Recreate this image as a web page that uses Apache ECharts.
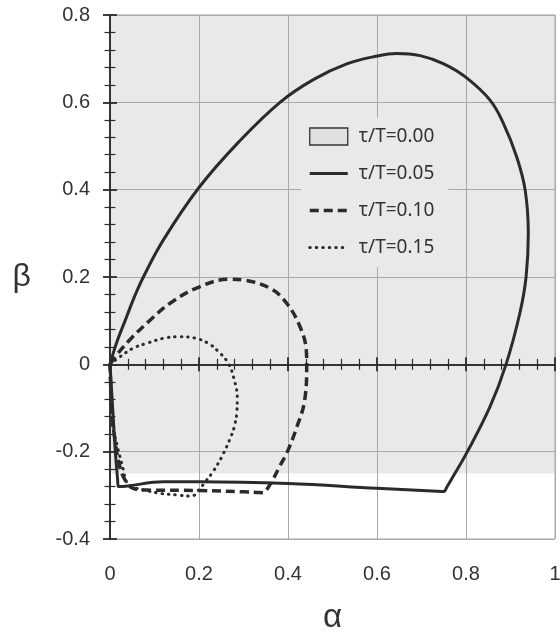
<!DOCTYPE html>
<html>
<head>
<meta charset="utf-8">
<script src="https://cdn.jsdelivr.net/npm/echarts@6/dist/echarts.min.js"></script>
<style>
  html, body { margin: 0; padding: 0; background: #fff; }
  #chart { width: 560px; height: 635px; }
</style>
</head>
<body>
<div id="chart"></div>
<script>
// Stability region for tau/T = 0.00 (shaded box)
const regionTop = [[0, 0.8], [1, 0.8]];
const regionBottom = -0.25;

// Boundary curves, [alpha, beta]
const curve05 = [
  [0, 0], [0.015, 0.05], [0.034, 0.1], [0.053, 0.15], [0.075, 0.2], [0.12, 0.285],
  [0.2, 0.405], [0.29, 0.51], [0.382, 0.6], [0.457, 0.652], [0.532, 0.688],
  [0.6, 0.706], [0.644, 0.712], [0.697, 0.707], [0.75, 0.688], [0.8, 0.657],
  [0.854, 0.605], [0.884, 0.552], [0.914, 0.475], [0.933, 0.399], [0.94, 0.3],
  [0.935, 0.2], [0.921, 0.117], [0.89, 0], [0.854, -0.097], [0.801, -0.204],
  [0.771, -0.257], [0.757, -0.281], [0.75, -0.291], [0.735, -0.2905], [0.6, -0.284],
  [0.4, -0.273], [0.2, -0.269], [0.12, -0.269], [0.035, -0.2792], [0.019, -0.28],
  [0.017, -0.262], [0.012, -0.2], [0.006, -0.1], [0, 0]
];
const curve10 = [
  [0, 0], [0.02, 0.028], [0.05, 0.062], [0.09, 0.101], [0.135, 0.14],
  [0.2, 0.177], [0.27, 0.195], [0.3, 0.193], [0.36, 0.174], [0.397, 0.14],
  [0.427, 0.086], [0.441, 0.033], [0.442, 0], [0.4375, -0.082], [0.42, -0.143],
  [0.397, -0.204], [0.382, -0.232], [0.367, -0.262], [0.352, -0.287], [0.345, -0.294],
  [0.33, -0.2935], [0.3, -0.292], [0.2, -0.289], [0.082, -0.288], [0.052, -0.284],
  [0.034, -0.265], [0.022, -0.234], [0.011, -0.173], [0.004, -0.1], [0, 0]
];
const curve15 = [
  [0, 0], [0.022, 0.017], [0.052, 0.037], [0.082, 0.048], [0.127, 0.061],
  [0.157, 0.063], [0.191, 0.06], [0.221, 0.048], [0.244, 0.029], [0.266, 0.002],
  [0.279, -0.035], [0.286, -0.075], [0.285, -0.11], [0.28, -0.14], [0.272, -0.165],
  [0.252, -0.21], [0.232, -0.245], [0.215, -0.268], [0.2, -0.287], [0.183, -0.302],
  [0.15, -0.299], [0.116, -0.296], [0.082, -0.289], [0.049, -0.28], [0.037, -0.269],
  [0.03, -0.242], [0.015, -0.181], [0.004, -0.128], [0, 0]
];

const seriesNames = ["τ/T=0.00", "τ/T=0.05", "τ/T=0.10", "τ/T=0.15"];

const ink = "#2b2b2b";
const gridGray = "#a9a9a9";
const fillGray = "#e8e9e9";
const labelFont = "'Liberation Sans', Arial, sans-serif";
const hideMarker = { color: "rgba(0,0,0,0)", borderWidth: 0, opacity: 0 };
const dotted = [0.5, 6];

const chart = echarts.init(document.getElementById("chart"), null, { renderer: "canvas" });

// shared tick setup for the axes drawn through the origin
function crossTicks(inside) {
  return {
    axisTick: { show: true, inside: inside, length: 7, lineStyle: { color: ink, width: 1.8 } },
    minorTick: { show: true, splitNumber: 5, length: 5.5, lineStyle: { color: ink, width: 1.2 } },
  };
}

const xBase = { type: "value", min: 0, max: 1, interval: 0.2, z: 2 };
const yBase = { type: "value", min: -0.4, max: 0.8, interval: 0.2, z: 2 };

const option = {
  animation: false,
  backgroundColor: "#fff",
  grid: {
    left: 110, right: 5, top: 15, bottom: 96,
    outerBoundsMode: "none",
    containLabel: false,
    show: true, borderColor: gridGray, borderWidth: 1, z: 2,
  },
  legend: {
    orient: "vertical",
    left: 301,
    top: 118,
    padding: [9, 14, 10, 7],
    backgroundColor: fillGray,
    itemWidth: 38,
    itemHeight: 17,
    itemGap: 18,
    selectedMode: false,
    z: 5,
    textStyle: {
      fontFamily: "'Noto Sans', sans-serif", fontSize: 19, lineHeight: 17,
      color: "#333", padding: [0, 0, 0, 6],
    },
    data: [
      { name: seriesNames[0], icon: "rect", itemStyle: { color: "#dfe0e0", borderColor: "#333", borderWidth: 1.3 } },
      { name: seriesNames[1], itemStyle: hideMarker, lineStyle: { width: 3, type: "solid", color: ink } },
      { name: seriesNames[2], itemStyle: hideMarker, lineStyle: { width: 3.5, type: [9, 5], color: ink } },
      { name: seriesNames[3], itemStyle: hideMarker, lineStyle: { width: 3, type: dotted, cap: "round", color: ink } },
    ],
  },
  xAxis: [
    Object.assign({}, xBase, {
      position: "bottom",
      name: "α",
      nameLocation: "middle",
      nameGap: 62,
      nameTextStyle: { fontFamily: labelFont, fontSize: 33, color: "#333" },
      axisLine: { show: false, onZero: false },
      axisTick: { show: false },
      axisLabel: { fontFamily: labelFont, fontSize: 20, color: "#333", margin: 25 },
      splitLine: { show: true, lineStyle: { color: gridGray, width: 1 } },
    }),
    Object.assign({}, xBase, crossTicks(false), {
      position: "bottom",
      axisLine: { show: true, onZero: true, onZeroAxisIndex: 0, lineStyle: { color: ink, width: 1.5 } },
      axisLabel: { show: false },
      splitLine: { show: false },
    }),
    Object.assign({}, xBase, crossTicks(true), {
      position: "bottom",
      axisLine: { show: true, onZero: true, onZeroAxisIndex: 0, lineStyle: { color: ink, width: 1.5 } },
      axisLabel: { show: false },
      splitLine: { show: false },
    }),
  ],
  yAxis: [
    Object.assign({}, yBase, crossTicks(false), {
      position: "left",
      name: "β",
      nameLocation: "middle",
      nameRotate: 0,
      nameGap: 79,
      nameTextStyle: { fontFamily: labelFont, fontSize: 32, color: "#333" },
      axisLine: { show: true, onZero: false, lineStyle: { color: ink, width: 1.5 } },
      axisLabel: { fontFamily: labelFont, fontSize: 20, color: "#333", margin: 20 },
      splitLine: { show: true, lineStyle: { color: gridGray, width: 1 } },
    }),
    Object.assign({}, yBase, crossTicks(true), {
      position: "left",
      axisLine: { show: true, onZero: false, lineStyle: { color: ink, width: 1.5 } },
      axisLabel: { show: false },
      splitLine: { show: false },
    }),
  ],
  series: [
    {
      name: seriesNames[0],
      type: "line",
      data: regionTop,
      symbol: "none",
      silent: true,
      z: 1,
      itemStyle: { color: "#dfe0e0" },
      lineStyle: { width: 0, opacity: 0 },
      areaStyle: { color: fillGray, opacity: 1, origin: regionBottom },
    },
    {
      name: seriesNames[1],
      type: "line",
      data: curve05,
      symbol: "none",
      smooth: 0.4,
      z: 3,
      itemStyle: { color: ink },
      lineStyle: { color: ink, width: 3, join: "round" },
    },
    {
      name: seriesNames[2],
      type: "line",
      data: curve10,
      symbol: "none",
      smooth: 0.4,
      z: 3,
      itemStyle: { color: ink },
      lineStyle: { color: ink, width: 3.5, type: [9, 5], join: "round" },
    },
    {
      name: seriesNames[3],
      type: "line",
      data: curve15,
      symbol: "none",
      smooth: 0.4,
      z: 3,
      itemStyle: { color: ink },
      lineStyle: { color: ink, width: 3, type: dotted, cap: "round", join: "round" },
    },
  ],
};

chart.setOption(option);
</script>
</body>
</html>
